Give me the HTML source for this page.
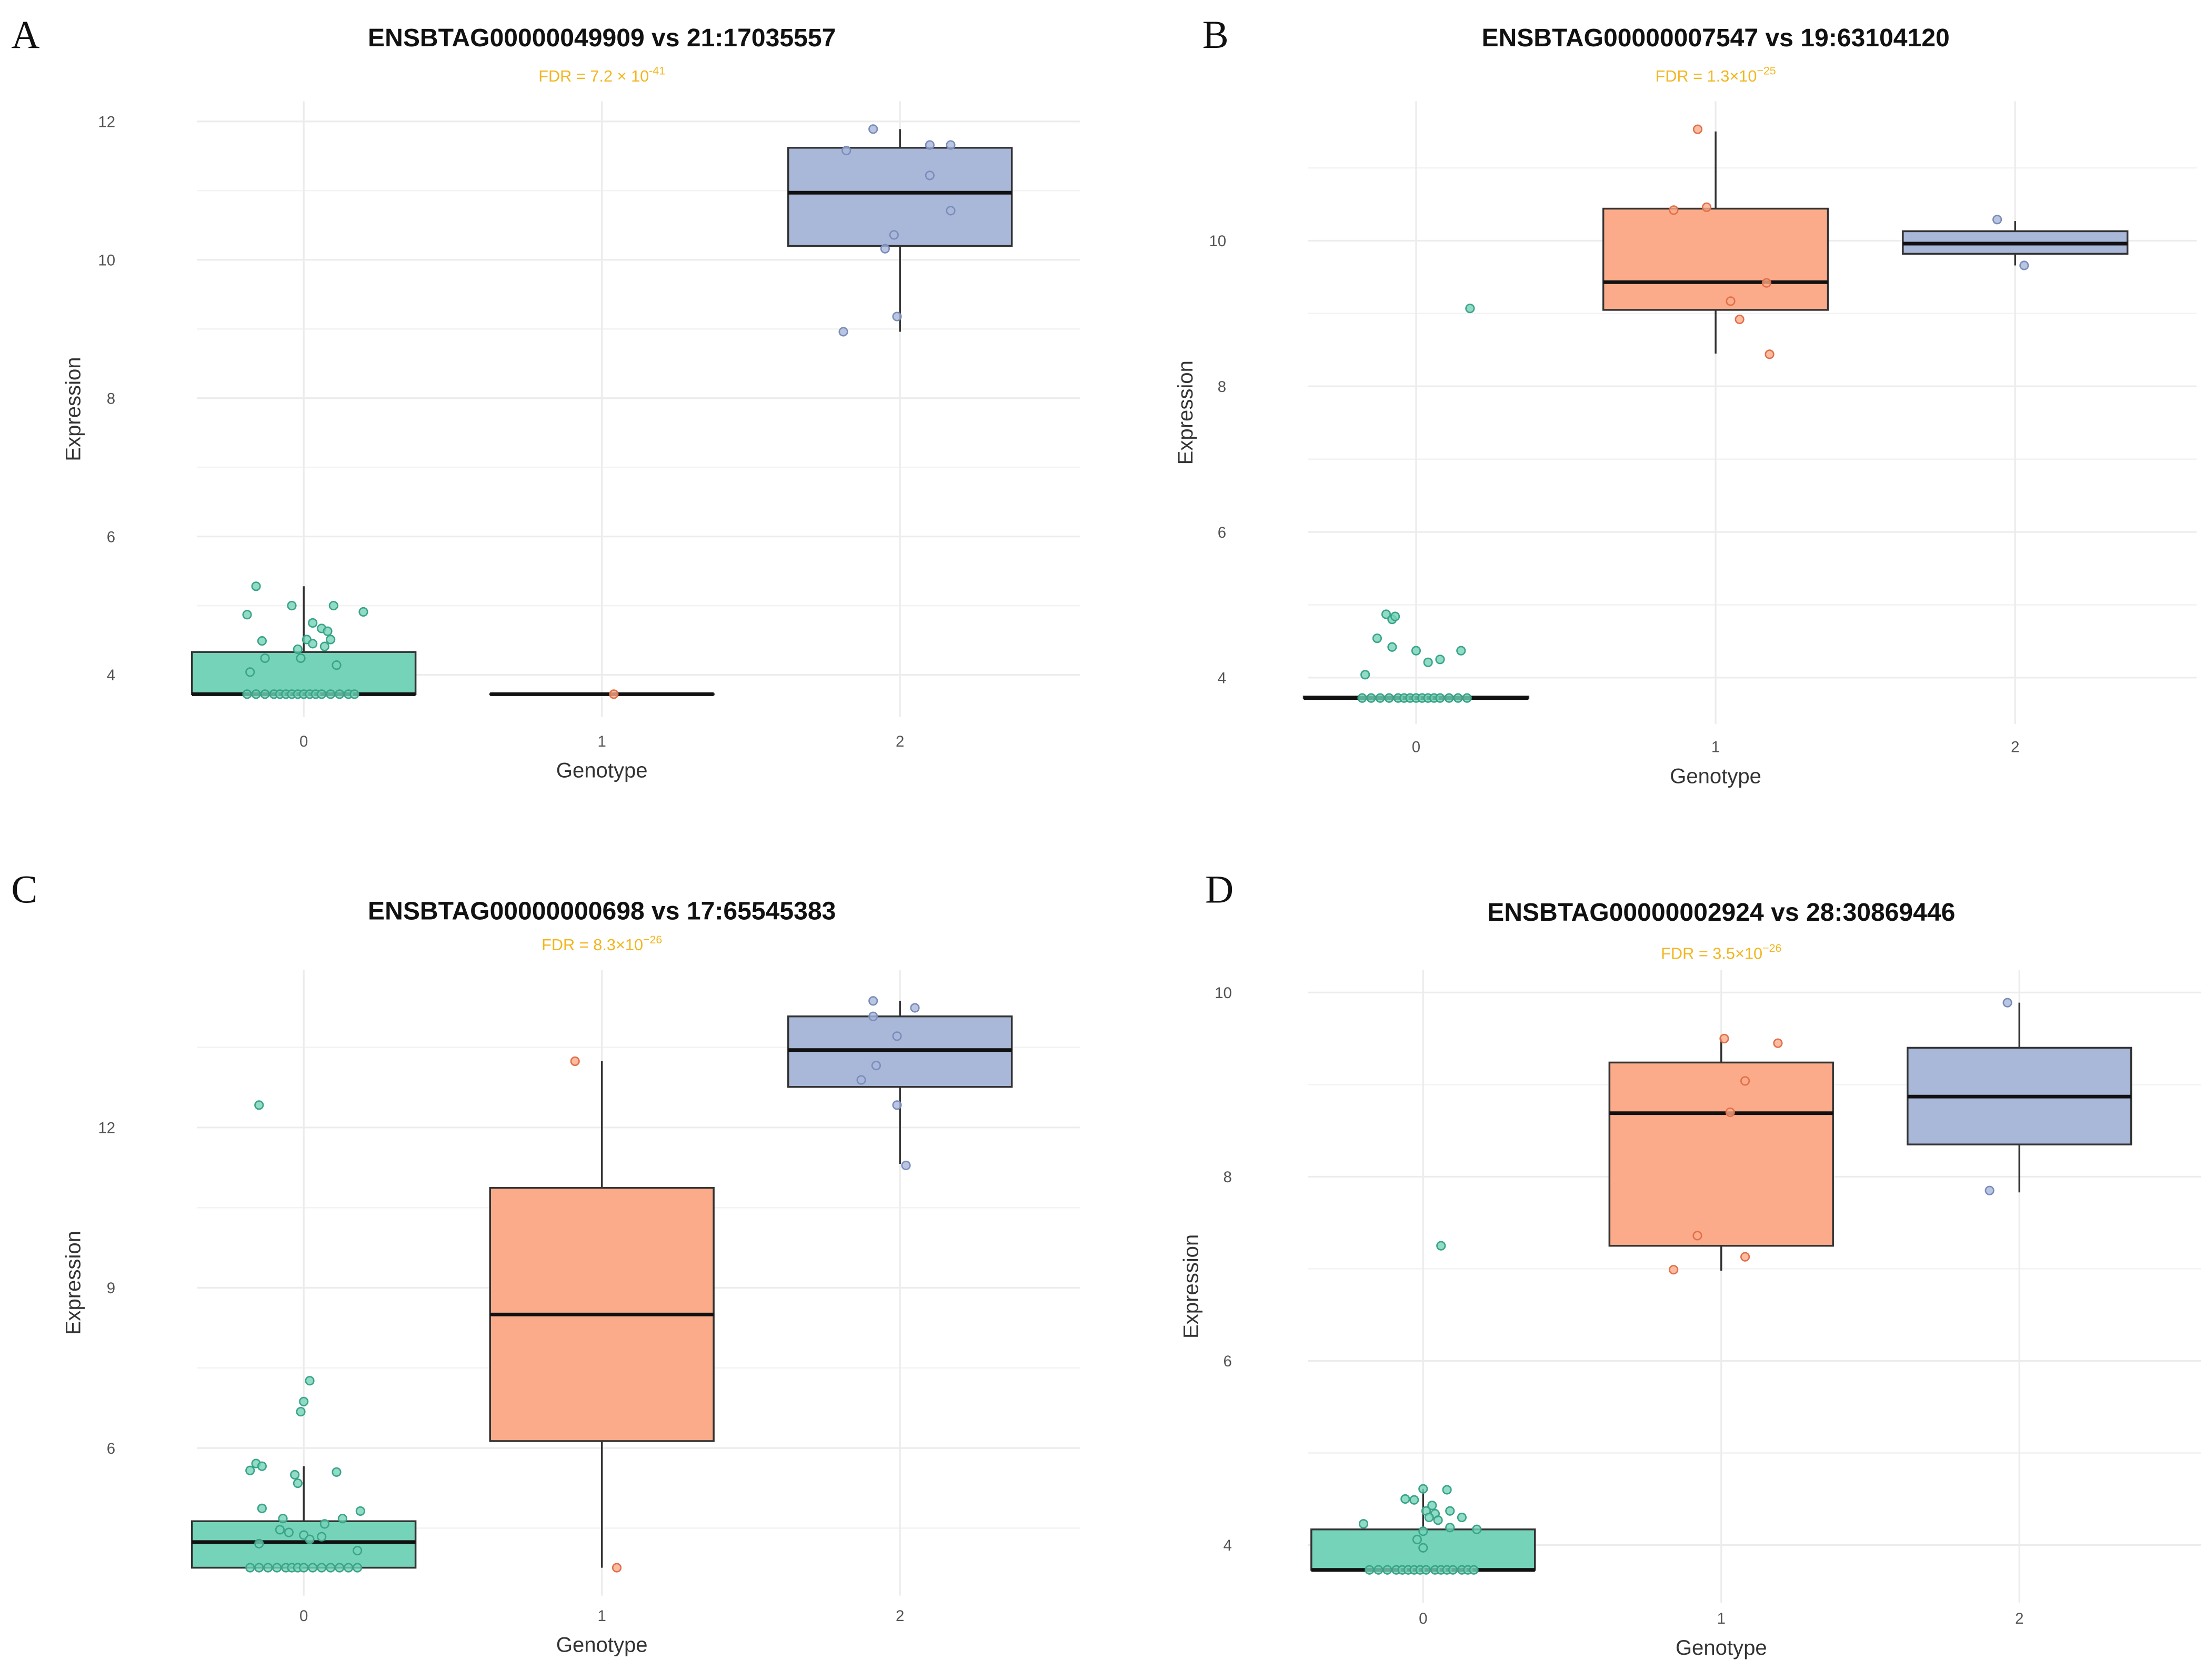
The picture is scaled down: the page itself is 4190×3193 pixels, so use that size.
<!DOCTYPE html>
<html><head><meta charset="utf-8"><style>
html,body{margin:0;padding:0;background:#fff;}
svg{display:block;}
text{font-family:"Liberation Sans",sans-serif;}
text.serif{font-family:"Liberation Serif",serif;}
</style></head>
<body>
<svg id="fig" width="4190" height="3193" viewBox="0 0 1568 1195" preserveAspectRatio="none" xmlns="http://www.w3.org/2000/svg"></svg>
<script>
// ---------- data ----------
const categories = ["0","1","2"];
// Panel A
const aTicks = [4,6,8,10,12];
const aBoxes = [[3.72,3.72,3.72,4.33,5.28],[3.72,3.72,3.72,3.72,3.72],[8.96,10.2,10.97,11.62,11.89]];
const aPtsV0 = [5.28,4.87,5.0,5.0,4.91,4.75,4.67,4.63,4.49,4.51,4.51,4.45,4.37,4.41,4.24,4.24,4.14,4.04,3.72,3.72,3.72,3.72,3.72,3.72,3.72,3.72,3.72,3.72,3.72,3.72,3.72,3.72,3.72,3.72];
const aPtsJ0 = [-0.16,-0.19,-0.04,0.10,0.20,0.03,0.06,0.08,-0.14,0.09,0.01,0.03,-0.02,0.07,-0.13,-0.01,0.11,-0.18,-0.19,-0.16,-0.13,-0.10,-0.08,-0.06,-0.04,-0.02,0.0,0.02,0.04,0.06,0.09,0.12,0.15,0.17];
const aPtsV1 = [3.72]; const aPtsJ1 = [0.04];
const aPtsV2 = [11.89,11.58,11.66,11.66,11.22,10.71,10.36,10.16,9.18,8.96];
const aPtsJ2 = [-0.09,-0.18,0.10,0.17,0.10,0.17,-0.02,-0.05,-0.01,-0.19];
// Panel B
const bTicks = [4,6,8,10];
const bBoxes = [[3.72,3.72,3.72,3.74,3.74],[8.45,9.05,9.43,10.44,11.5],[9.66,9.82,9.96,10.13,10.27]];
const bPtsV0 = [9.07,4.87,4.8,4.84,4.54,4.42,4.37,4.37,4.25,4.21,4.04,3.72,3.72,3.72,3.72,3.72,3.72,3.72,3.72,3.72,3.72,3.72,3.72,3.72,3.72,3.72];
const bPtsJ0 = [0.18,-0.10,-0.08,-0.07,-0.13,-0.08,0.0,0.15,0.08,0.04,-0.17,-0.18,-0.15,-0.12,-0.09,-0.06,-0.04,-0.02,0.0,0.02,0.04,0.06,0.08,0.11,0.14,0.17];
const bPtsV1 = [11.53,10.42,10.46,9.42,9.17,8.92,8.44];
const bPtsJ1 = [-0.06,-0.14,-0.03,0.17,0.05,0.08,0.18];
const bPtsV2 = [10.29,9.66]; const bPtsJ2 = [-0.06,0.03];
// Panel C
const cTicks = [6,9,12];
const cBoxes = [[3.76,3.76,4.24,4.63,5.66],[3.76,6.13,8.5,10.87,13.24],[11.32,12.76,13.45,14.08,14.37]];
const cPtsV0 = [12.42,7.26,6.87,6.68,5.71,5.66,5.58,5.5,5.55,5.34,4.87,4.82,4.68,4.68,4.58,4.47,4.42,4.37,4.29,4.34,4.21,4.08,3.76,3.76,3.76,3.76,3.76,3.76,3.76,3.76,3.76,3.76,3.76,3.76,3.76,3.76];
const cPtsJ0 = [-0.15,0.02,0.0,-0.01,-0.16,-0.14,-0.18,-0.03,0.11,-0.02,-0.14,0.19,-0.07,0.13,0.07,-0.08,-0.05,0.0,0.02,0.06,-0.15,0.18,-0.18,-0.15,-0.12,-0.09,-0.06,-0.04,-0.02,0.0,0.03,0.06,0.09,0.12,0.15,0.18];
const cPtsV1 = [13.24,3.76]; const cPtsJ1 = [-0.09,0.05];
const cPtsV2 = [14.37,14.24,14.08,13.71,13.16,12.89,12.42,11.29];
const cPtsJ2 = [-0.09,0.05,-0.09,-0.01,-0.08,-0.13,-0.01,0.02];
// Panel D
const dTicks = [4,6,8,10];
const dBoxes = [[3.73,3.73,3.73,4.17,4.61],[6.98,7.25,8.69,9.24,9.5],[7.83,8.35,8.87,9.4,9.89]];
const dPtsV0 = [7.25,4.61,4.6,4.5,4.49,4.43,4.37,4.37,4.34,4.3,4.3,4.27,4.19,4.23,4.17,4.15,4.06,3.97,3.73,3.73,3.73,3.73,3.73,3.73,3.73,3.73,3.73,3.73,3.73,3.73,3.73,3.73,3.73,3.73];
const dPtsJ0 = [0.06,0.0,0.08,-0.06,-0.03,0.03,0.09,0.01,0.04,0.02,0.13,0.05,0.09,-0.2,0.18,0.0,-0.02,0.0,-0.18,-0.15,-0.12,-0.09,-0.07,-0.05,-0.03,-0.01,0.01,0.04,0.06,0.08,0.1,0.13,0.15,0.17];
const dPtsV1 = [9.5,9.45,9.04,8.7,7.36,7.13,6.99];
const dPtsJ1 = [0.01,0.19,0.08,0.03,-0.08,0.08,-0.16];
const dPtsV2 = [9.89,7.85]; const dPtsJ2 = [-0.04,-0.1];

const fills = ["#74d3b8","#fcab8a","#a9b7d9"];
const strokes = ["#3aa488","#e0704a","#7a8dbb"];

const panels = [
 {id:"a",letter:"A",lx:8,ly:34,title:"ENSBTAG00000049909 vs 21:17035557",fdr:["FDR = 7.2 × 10","-41"],tcx:428,ty:33,fy:58,
  x0:216,dx:212,left:140,right:768,top:72,bottom:510,ylab:52,tickx:82,xtickY:531,xtitleY:553,
  vRef:4,yRef:480,ppu:49.2,ticks:aTicks,minors:[5,7,9,11],boxes:aBoxes,pv:[aPtsV0,aPtsV1,aPtsV2],pj:[aPtsJ0,aPtsJ1,aPtsJ2]},
 {id:"b",letter:"B",lx:855,ly:34,title:"ENSBTAG00000007547 vs 19:63104120",fdr:["FDR = 1.3×10","−25"],tcx:1220,ty:33,fy:58,
  x0:1007,dx:213,left:930,right:1562,top:72,bottom:515,ylab:843,tickx:872,xtickY:535,xtitleY:557,
  vRef:4,yRef:482,ppu:51.8,ticks:bTicks,minors:[5,7,9,11],boxes:bBoxes,pv:[bPtsV0,bPtsV1,bPtsV2],pj:[bPtsJ0,bPtsJ1,bPtsJ2]},
 {id:"c",letter:"C",lx:8,ly:642,title:"ENSBTAG00000000698 vs 17:65545383",fdr:["FDR = 8.3×10","−26"],tcx:428,ty:654,fy:676,
  x0:216,dx:212,left:140,right:768,top:690,bottom:1135,ylab:52,tickx:82,xtickY:1153,xtitleY:1175,
  vRef:6,yRef:1030,ppu:38,ticks:cTicks,minors:[4.5,7.5,10.5,13.5],boxes:cBoxes,pv:[cPtsV0,cPtsV1,cPtsV2],pj:[cPtsJ0,cPtsJ1,cPtsJ2]},
 {id:"d",letter:"D",lx:857,ly:642,title:"ENSBTAG00000002924 vs 28:30869446",fdr:["FDR = 3.5×10","−26"],tcx:1224,ty:655,fy:682,
  x0:1012,dx:212,left:930,right:1565,top:690,bottom:1140,ylab:847,tickx:876,xtickY:1155,xtitleY:1177,
  vRef:4,yRef:1099,ppu:65.5,ticks:dTicks,minors:[5,7,9],boxes:dBoxes,pv:[dPtsV0,dPtsV1,dPtsV2],pj:[dPtsJ0,dPtsJ1,dPtsJ2]}
];

const NS="http://www.w3.org/2000/svg";
const svg=document.getElementById('fig');
function mk(tag,attrs,parent){const e=document.createElementNS(NS,tag);for(const k in attrs)e.setAttribute(k,attrs[k]);(parent||svg).appendChild(e);return e;}

panels.forEach(p=>{
  const g=mk('g',{});
  
  
  const ys=v=>p.yRef-(v-p.vRef)*p.ppu;
  const xs=i=>p.x0+i*p.dx;
  const bw=p.dx*0.375;
  p.minors.forEach(v=>{const y=ys(v); if(y>p.top&&y<p.bottom){const l=mk('line',{x1:p.left,x2:p.right,y1:y,y2:y,stroke:'#f3f3f3','stroke-width':1},g);
    
    }});
  p.ticks.forEach(v=>{const y=ys(v);const l=mk('line',{x1:p.left,x2:p.right,y1:y,y2:y,stroke:'#ececec','stroke-width':1.2},g);
    
    
    const t=mk('text',{x:p.tickx,y:y+4,'text-anchor':'end','font-size':11,fill:'#555'},g);t.textContent=v;
    
    });
  categories.forEach((c,i)=>{const l=mk('line',{x1:xs(i),x2:xs(i),y1:p.top,y2:p.bottom,stroke:'#ececec','stroke-width':1.2},g);
    
    
    const t=mk('text',{x:xs(i),y:p.xtickY,'text-anchor':'middle','font-size':11,fill:'#555'},g);t.textContent=c;
    
    });
  p.boxes.forEach((b,i)=>{const x=xs(i);
    const w=mk('line',{x1:x,x2:x,y1:ys(b[0]),y2:ys(b[4]),stroke:'#333','stroke-width':1.3},g);
    
    
    const r=mk('rect',{x:x-bw,y:ys(b[3]),width:2*bw,height:Math.max(ys(b[1])-ys(b[3]),0.1),fill:fills[i],stroke:'#333','stroke-width':1.3},g);
    
    
    const m=mk('line',{x1:x-bw,x2:x+bw,y1:ys(b[2]),y2:ys(b[2]),stroke:'#111','stroke-width':2.6},g);
    
    
  });
  p.pv.forEach((vals,i)=>{vals.forEach((v,k)=>{
    const c=mk('circle',{cx:xs(i)+p.pj[i][k]*p.dx,cy:ys(v),r:2.9,fill:fills[i],'fill-opacity':0.8,stroke:strokes[i],'stroke-width':1},g);
    
    
  });});
  const L=mk('text',{x:p.lx,y:p.ly,'font-size':28,fill:'#111',class:'serif'},g);L.textContent=p.letter;
  
  
  const T=mk('text',{x:p.tcx,y:p.ty,'text-anchor':'middle','font-size':18,'font-weight':'bold',fill:'#111'},g);T.textContent=p.title;
  
  
  const F=mk('text',{x:p.tcx,y:p.fy,'text-anchor':'middle','font-size':11.5,fill:'#f2b61e'},g);
  
  
  const s1=mk('tspan',{},F);s1.textContent=p.fdr[0];
  const s2=mk('tspan',{dy:-5,'font-size':8},F);s2.textContent=p.fdr[1];
  const X=mk('text',{x:xs(1),y:p.xtitleY,'text-anchor':'middle','font-size':15,fill:'#333'},g);X.textContent='Genotype';
  
  
  const yc=(p.top+p.bottom)/2;
  const Y=mk('text',{x:p.ylab,y:yc,'text-anchor':'middle','font-size':15,fill:'#333',transform:`rotate(-90 ${p.ylab} ${yc})`,dy:5},g);Y.textContent='Expression';
  
  
});
</script>
</body></html>
